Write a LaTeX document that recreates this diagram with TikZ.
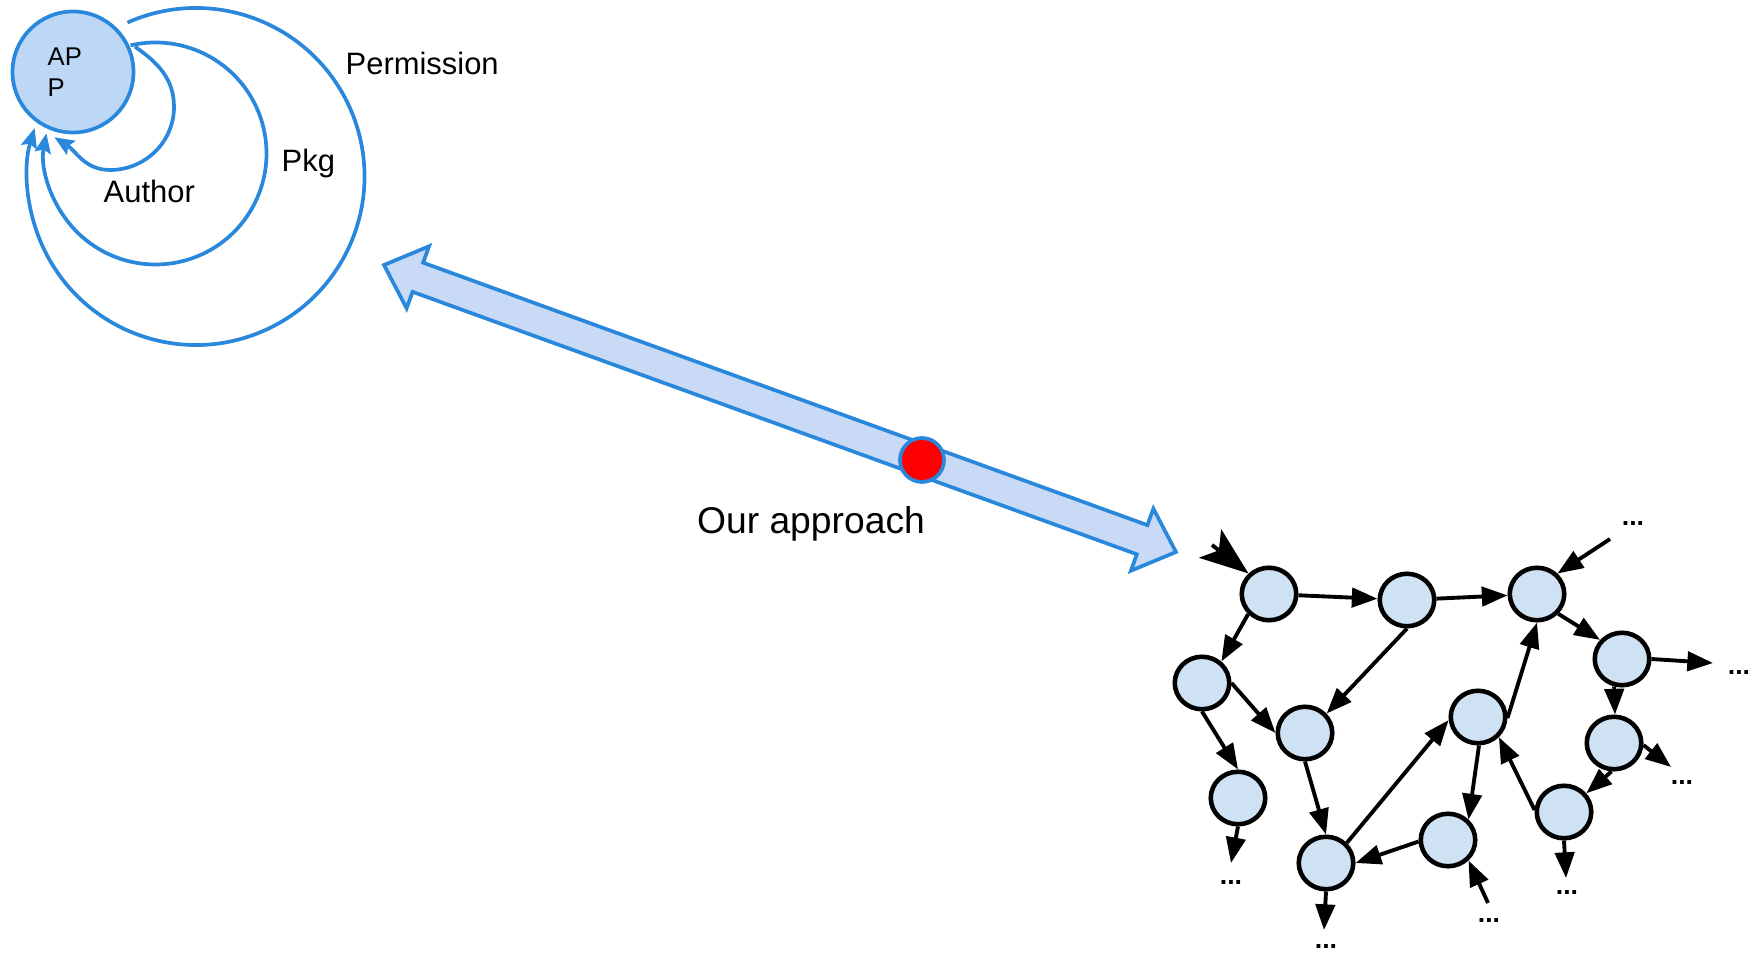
\documentclass[tikz,border=0pt]{standalone}
\usepackage{fontspec}
\setmainfont{Liberation Sans}
\usetikzlibrary{shapes.geometric,arrows.meta}
\definecolor{linkblue}{RGB}{42,136,220}
\definecolor{appfill}{RGB}{189,215,246}
\definecolor{bandfill}{RGB}{200,218,246}
\definecolor{statefill}{RGB}{207,226,243}
\tikzset{
  state/.style={ellipse, draw=black, fill=statefill, line width=1.3pt,
    minimum width=0.545cm, minimum height=0.525cm, inner sep=0pt},
  edge/.style={line width=1.1pt, -{Triangle[length=7.3pt,width=5.5pt]}},
  bigin/.style={line width=1.1pt, -{Stealth[length=13.8pt,width=10.2pt,inset=3.1pt]}},
  more/.style={anchor=base, inner sep=0pt, font=\fontsize{7.6}{8}\selectfont\bfseries},
  scopearc/.style={draw=linkblue, line width=1.05pt,
    -{Stealth[length=5.6pt,width=4.6pt,inset=0.9pt]}},
  lbl/.style={anchor=base west, inner sep=0pt, font=\fontsize{8.8}{10}\selectfont},
}
\begin{document}
\begin{tikzpicture}
\useasboundingbox (0,0) rectangle (17.58,-9.53);

% ---- the app and its three permission scopes ----
\node[circle, draw=linkblue, fill=appfill, line width=1.05pt,
      minimum size=1.21cm, inner sep=0pt] (app) at (0.73,-0.72) {};
\node[anchor=base west, align=left, inner sep=0pt,
      font=\fontsize{7.3}{9.1}\selectfont] (applabel) at (0.47,-0.97) {AP\\P};

\coordinate (permC) at (1.96,-1.765);
\coordinate (pkgC)  at (1.555,-1.535);
\draw[scopearc] (permC) ++(114:1.685) arc[start angle=114, end angle=-196.7, radius=1.685];
\draw[scopearc] (pkgC) ++(103:1.11) arc[start angle=103, end angle=-190.5, radius=1.11];
\coordinate (authS) at (1.35,-0.467);
\coordinate (authR) at (1.74,-1.07);
\coordinate (authB) at (1.10,-1.70);
\coordinate (authT) at (0.543,-1.373);
\draw[scopearc] (authS) to[out=-35,in=90] (authR) to[out=-90,in=0] (authB)
  to[out=180,in=-32] (authT);

\node[lbl] (permlabel) at (3.45,-0.75) {Permission};
\node[lbl] (pkglabel) at (2.81,-1.72) {Pkg};
\node[lbl] (authlabel) at (1.03,-2.03) {Author};

% ---- the two-headed band ----
\coordinate (bandL) at (3.84,-2.65);
\coordinate (bandR) at (11.76,-5.52);
\begin{scope}[shift={(bandL)}, rotate=-19.92]
  \draw[draw=linkblue, fill=bandfill, line width=1.05pt, line join=miter]
    (0,0) -- (0.36,0.33) -- (0.36,0.155) -- (8.064,0.155) -- (8.064,0.33)
    -- (8.424,0) -- (8.064,-0.33) -- (8.064,-0.155) -- (0.36,-0.155)
    -- (0.36,-0.33) -- cycle;
\end{scope}
\node[circle, draw=linkblue, fill=red, line width=1.05pt,
      minimum size=0.44cm, inner sep=0pt] (pivot) at (9.22,-4.60) {};
\node[anchor=base, inner sep=0pt, font=\fontsize{10.6}{12}\selectfont]
  (approach) at (8.11,-5.33) {Our approach};

% ---- call graph ----
\node[state] (n1)  at (12.69,-5.94) {};
\node[state] (n2)  at (14.07,-6.00) {};
\node[state] (n3)  at (15.37,-5.94) {};
\node[state] (n4)  at (16.22,-6.59) {};
\node[state] (n5)  at (12.02,-6.83) {};
\node[state] (n6)  at (13.05,-7.33) {};
\node[state] (n7)  at (14.78,-7.17) {};
\node[state] (n8)  at (16.14,-7.43) {};
\node[state] (n9)  at (12.38,-7.98) {};
\node[state] (n10) at (15.64,-8.12) {};
\node[state] (n11) at (13.26,-8.63) {};
\node[state] (n12) at (14.48,-8.40) {};

% loose ends
\coordinate (in1)  at (12.12,-5.45);
\coordinate (in3)  at (16.10,-5.39);
\coordinate (in12) at (14.88,-9.03);
\coordinate (out4)  at (17.13,-6.63);
\coordinate (out8)  at (16.71,-7.67);
\coordinate (out9)  at (12.31,-8.63);
\coordinate (out10) at (15.66,-8.78);
\coordinate (out11) at (13.24,-9.30);

\draw[bigin] (in1) -- (n1.135);
\draw[edge] (n1) -- (n2);
\draw[edge] (n2) -- (n3);
\draw[edge] (n1.224) -- (n5.48);
\draw[edge] (n5.0) -- (n6.180);
\draw[edge] (n2.270) -- (n6.42);
\draw[edge] (n5.270) -- (n9.90);
\draw[edge] (n6.270) -- (n11.90);
\draw[edge] (n11.44) -- (n7.186);
\draw[edge] (n12.183) -- (n11.0);
\draw[edge] (n7.272) -- (n12.45);
\draw[edge] (n7.358) -- (n3.270);
\draw[edge] (n10.176) -- (n7.316);
\draw[edge] (n3.317) -- (n4.139);
\draw[edge] (n4.254) -- (n8.88);
\draw[edge] (n8.265) -- (n10.40);
\draw[edge] (in3) -- (n3.45);
\draw[edge] (in12) -- (n12.315);
\draw[edge] (n4.0) -- (out4);
\draw[edge] (n8.356) -- (out8);
\draw[edge] (n9.270) -- (out9);
\draw[edge] (n10.270) -- (out10);
\draw[edge] (n11.270) -- (out11);

\node[more] (d3)  at (16.33,-5.255) {...};
\node[more] (d4)  at (17.39,-6.745) {...};
\node[more] (d8)  at (16.82,-7.845) {...};
\node[more] (d9)  at (12.31,-8.845) {...};
\node[more] (d10) at (15.67,-8.945) {...};
\node[more] (d11) at (13.26,-9.485) {...};
\node[more] (d12) at (14.89,-9.225) {...};
\end{tikzpicture}
\end{document}
